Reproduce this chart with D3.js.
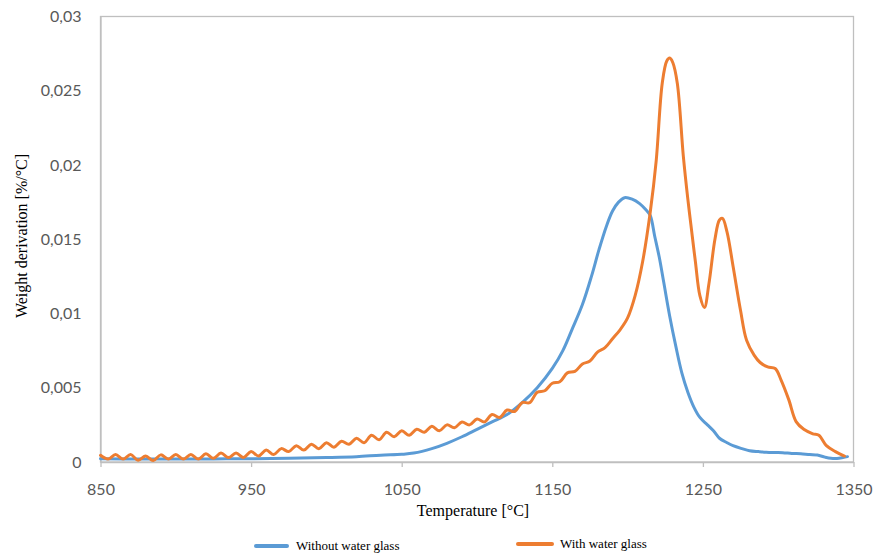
<!DOCTYPE html>
<html>
<head>
<meta charset="utf-8">
<script src="https://cdn.jsdelivr.net/npm/d3@7"></script>
<style>
  html, body { margin: 0; padding: 0; background: #fff; }
  svg { display: block; }
</style>
</head>
<body>
<svg id="chart" width="876" height="557"></svg>
<script>
// Derivative thermogravimetry (DTG) curves, temperature in °C, weight derivation in %/°C
const xTicks = [850, 950, 1050, 1150, 1250, 1350];
const yTicks = [0, 0.005, 0.01, 0.015, 0.02, 0.025, 0.03];
const yTickLabels = ["0", "0,005", "0,01", "0,015", "0,02", "0,025", "0,03"];
const seriesNames = ["Without water glass", "With water glass"];

const withoutTemp = [850, 875, 900, 925, 950, 975, 1000, 1020, 1036, 1050, 1058, 1070, 1080, 1090, 1100, 1110,
  1120, 1130, 1140, 1150, 1157, 1163, 1170, 1176, 1181, 1186, 1190, 1194, 1198, 1203, 1208, 1212, 1215,
  1218, 1221, 1224, 1228, 1232, 1236, 1240, 1244, 1248, 1253, 1257, 1261, 1266, 1270, 1276, 1281, 1287,
  1292, 1298, 1303, 1309, 1315, 1321, 1326, 1331, 1335, 1339, 1343, 1346];
const withoutValue = [0.00022, 0.0002, 0.0002, 0.00021, 0.00022, 0.00025, 0.0003, 0.00036, 0.00046, 0.00052, 0.0006, 0.0009, 0.00126, 0.0017, 0.0022, 0.0027,
  0.0032, 0.004, 0.005, 0.0063, 0.0075, 0.0089, 0.0106, 0.0125, 0.0143, 0.0159, 0.0169, 0.0175, 0.0178, 0.0177, 0.0174, 0.017, 0.0166,
  0.0152, 0.0138, 0.0121, 0.0098, 0.0078, 0.006, 0.0047, 0.0037, 0.003, 0.0025, 0.0021, 0.0016, 0.0013, 0.0011, 0.0009, 0.00076, 0.0007,
  0.00066, 0.00064, 0.00063, 0.00058, 0.00055, 0.0005, 0.00047, 0.00033, 0.00025, 0.00024, 0.0003, 0.00036];

const withTemp = [850, 855, 860, 865, 870, 875, 880, 885, 890, 895, 900, 905, 910, 915, 920, 925, 930, 935, 940, 945,
  950, 955, 960, 965, 970, 975, 980, 985, 990, 995, 1000, 1005, 1010, 1015, 1020, 1025, 1030, 1035, 1040, 1045,
  1050, 1055, 1060, 1065, 1070, 1075, 1080, 1085, 1090, 1095, 1100, 1105, 1110, 1115, 1120, 1125, 1130, 1135, 1140, 1145,
  1150, 1155, 1160, 1165, 1170, 1175, 1180, 1185, 1190, 1195, 1200, 1205, 1210, 1215, 1219, 1223, 1226, 1228, 1230, 1233,
  1237, 1240, 1242, 1245, 1248, 1251, 1254, 1258, 1261, 1263, 1266, 1270, 1275, 1279, 1284, 1288, 1293, 1298, 1302, 1307,
  1312, 1317, 1323, 1327, 1332, 1338, 1344];
const withValue = [0.00045, 0.0002, 0.0005, 0.0002, 0.0005, 0.00012, 0.0004, 0.0001, 0.00048, 0.0002, 0.0005, 0.0002, 0.0005, 0.0002, 0.00055, 0.00025, 0.0006, 0.0003, 0.0006, 0.0003,
  0.0007, 0.0004, 0.0008, 0.0005, 0.0009, 0.0007, 0.0011, 0.0008, 0.0012, 0.0009, 0.0013, 0.001, 0.0014, 0.0012, 0.0016, 0.0013, 0.0018, 0.0015, 0.002, 0.0017,
  0.0021, 0.0018, 0.0022, 0.002, 0.0024, 0.0021, 0.0025, 0.0023, 0.0027, 0.0025, 0.0029, 0.0027, 0.0032, 0.003, 0.0035, 0.0034, 0.004, 0.004, 0.0047, 0.0048,
  0.0053, 0.0054, 0.006, 0.0061, 0.0066, 0.0068, 0.0074, 0.0077, 0.0083, 0.0089, 0.0097, 0.0112, 0.0135, 0.0168, 0.0203, 0.0255, 0.027, 0.0272, 0.0269, 0.0255,
  0.0206, 0.0177, 0.016, 0.0135, 0.0112, 0.0104, 0.012, 0.015, 0.0163, 0.0164, 0.0155, 0.0132, 0.0102, 0.0082, 0.0072, 0.0067, 0.0064, 0.0063, 0.0055, 0.0042,
  0.0027, 0.0022, 0.0019, 0.0018, 0.0011, 0.0007, 0.0004];

const colors = ["#5B9BD5", "#ED7D31"];

const svg = d3.select("#chart");
const plot = { left: 100.5, right: 853.5, top: 16.5, bottom: 462 };

const x = d3.scaleLinear().domain([850, 1350]).range([plot.left, plot.right]);
const y = d3.scaleLinear().domain([0, 0.03]).range([plot.bottom, plot.top]);

const axisColor = "#BFBFBF";
const labelColor = "#595959";

// plot frame
svg.append("rect")
  .attr("x", plot.left).attr("y", plot.top)
  .attr("width", plot.right - plot.left).attr("height", plot.bottom - plot.top)
  .attr("fill", "none").attr("stroke", axisColor).attr("stroke-width", 1.3);

// x axis
const xAxis = d3.axisBottom(x).tickValues(xTicks).tickSize(5).tickSizeOuter(0).tickFormat(d3.format("d"));
const gx = svg.append("g").attr("transform", `translate(0,${plot.bottom})`).call(xAxis);
gx.select(".domain").attr("stroke", axisColor).attr("stroke-width", 1.3);
gx.selectAll(".tick line").attr("stroke", axisColor).attr("stroke-width", 1.3);
gx.selectAll(".tick text")
  .attr("fill", labelColor).attr("font-family", "Lato, 'Open Sans', sans-serif")
  .attr("font-size", 16).attr("dy", 0).attr("y", 33);

// y axis
const yAxis = d3.axisLeft(y).tickValues(yTicks).tickSize(0).tickPadding(19)
  .tickFormat((d, i) => yTickLabels[i]);
const gy = svg.append("g").attr("transform", `translate(${plot.left},0)`).call(yAxis);
gy.select(".domain").attr("stroke", axisColor).attr("stroke-width", 1.3);
gy.selectAll(".tick text")
  .attr("fill", labelColor).attr("font-family", "Lato, 'Open Sans', sans-serif")
  .attr("font-size", 16);

// axis titles
svg.append("text")
  .attr("x", 473).attr("y", 516).attr("text-anchor", "middle")
  .attr("font-family", "'Liberation Serif', 'Times New Roman', serif").attr("font-size", 16)
  .attr("fill", "#000").text("Temperature [°C]");

svg.append("text")
  .attr("transform", "translate(27,236) rotate(-90)").attr("text-anchor", "middle")
  .attr("font-family", "'Liberation Serif', 'Times New Roman', serif").attr("font-size", 16)
  .attr("fill", "#000").text("Weight derivation [%/°C]");

// curves
const series = [
  withoutTemp.map((t, i) => [t, withoutValue[i]]),
  withTemp.map((t, i) => [t, withValue[i]])
];
const line = d3.line().x(d => x(d[0])).y(d => y(d[1])).curve(d3.curveCatmullRom.alpha(0.5));

series.forEach((s, i) => {
  svg.append("path").datum(s)
    .attr("d", line)
    .attr("fill", "none").attr("stroke", colors[i])
    .attr("stroke-width", 3).attr("stroke-linejoin", "round").attr("stroke-linecap", "round");
});

// legend
const legendItems = [
  { x0: 256, x1: 287, ty: 546, tx: 296 },
  { x0: 518, x1: 552, ty: 544, tx: 560 }
];
legendItems.forEach((it, i) => {
  svg.append("line")
    .attr("x1", it.x0).attr("x2", it.x1).attr("y1", it.ty).attr("y2", it.ty)
    .attr("stroke", colors[i]).attr("stroke-width", 4).attr("stroke-linecap", "round");
  svg.append("text")
    .attr("x", it.tx).attr("y", it.ty + 4)
    .attr("font-family", "'Liberation Serif', 'Times New Roman', serif").attr("font-size", 13)
    .attr("fill", "#000").text(seriesNames[i]);
});
</script>
</body>
</html>
